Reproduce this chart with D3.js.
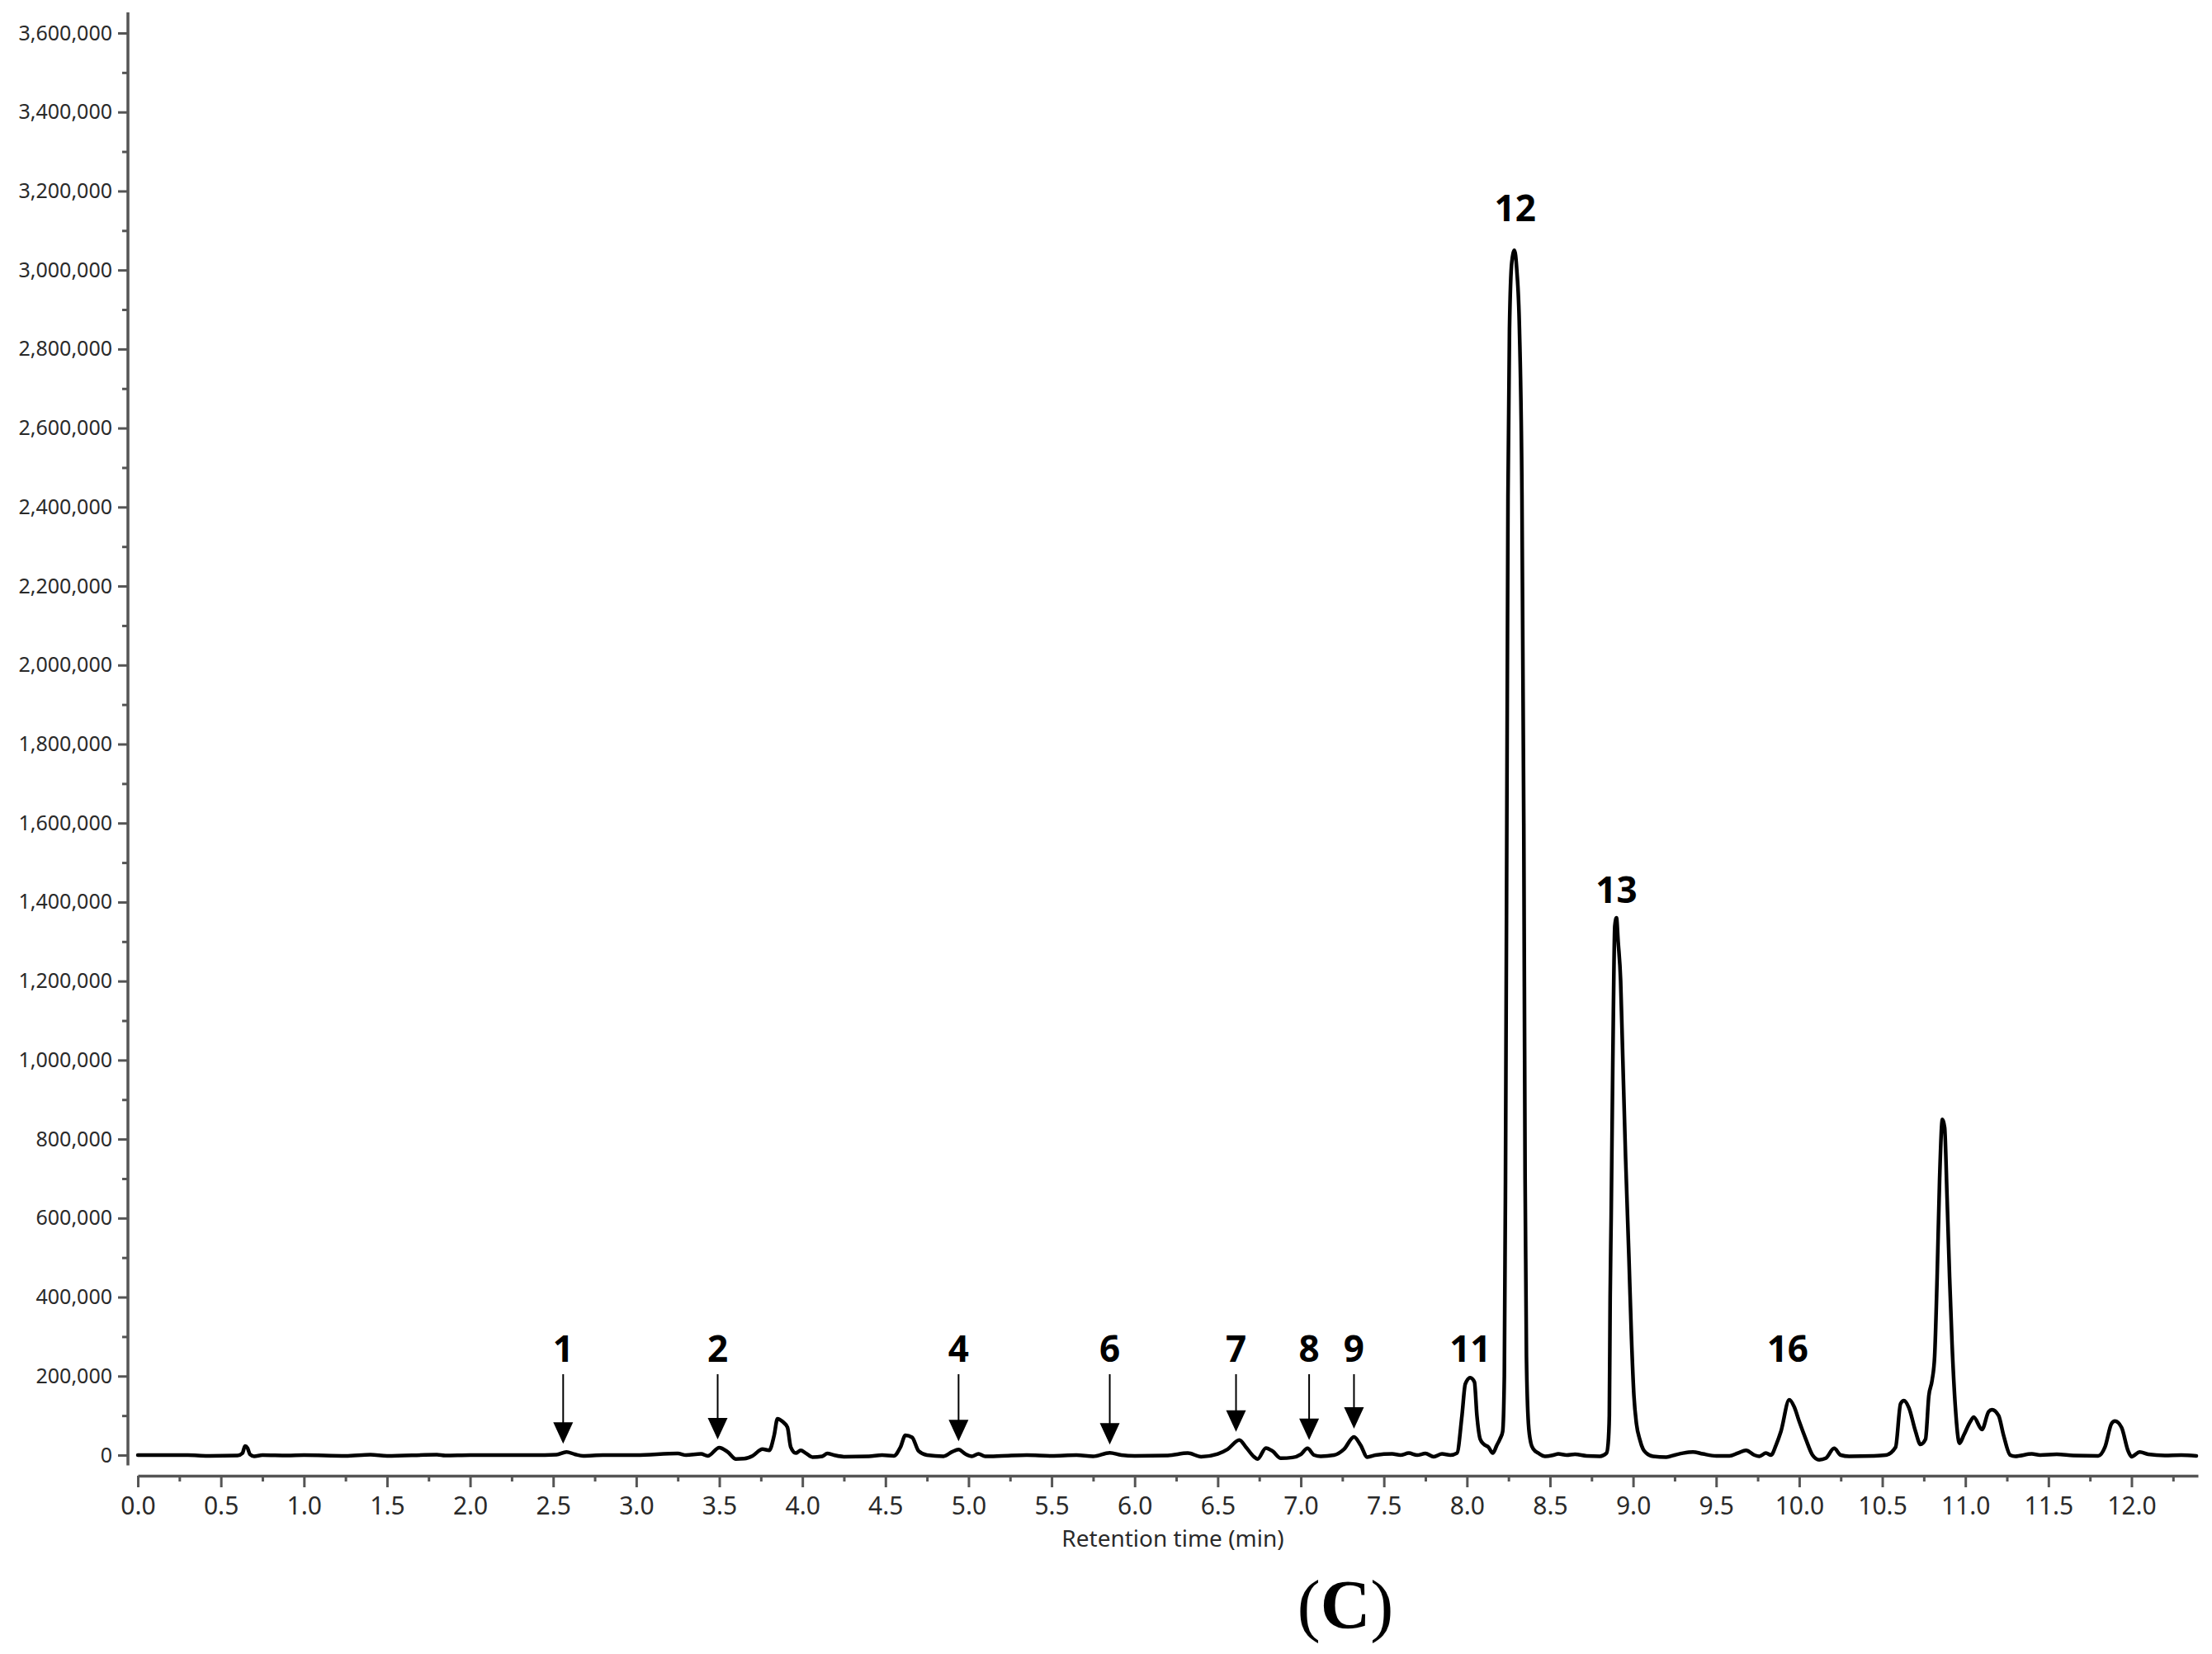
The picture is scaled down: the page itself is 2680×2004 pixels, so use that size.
<!DOCTYPE html>
<html><head><meta charset="utf-8">
<script src="https://cdn.jsdelivr.net/npm/d3@7"></script>
<style>html,body{margin:0;padding:0;background:#fff}</style>
</head><body>
<svg id="chart" width="2680" height="2004"></svg>
<script>
// ---- data ----
const times = [0.00,0.30,0.42,0.60,0.63,0.645,0.66,0.675,0.70,0.75,0.90,1.00,1.25,1.40,1.50,1.80,1.85,2.00,2.30,2.45,2.52,2.58,2.63,2.68,2.80,3.00,3.25,3.30,3.39,3.43,3.50,3.55,3.60,3.65,3.70,3.76,3.80,3.83,3.85,3.88,3.91,3.93,3.96,3.99,4.02,4.06,4.12,4.15,4.19,4.25,4.40,4.48,4.55,4.59,4.62,4.66,4.70,4.75,4.85,4.90,4.94,4.98,5.02,5.06,5.10,5.20,5.35,5.50,5.65,5.75,5.85,5.92,6.00,6.20,6.32,6.40,6.50,6.56,6.63,6.67,6.72,6.74,6.79,6.83,6.88,6.95,7.00,7.04,7.08,7.12,7.20,7.26,7.32,7.36,7.40,7.45,7.55,7.60,7.65,7.70,7.75,7.80,7.85,7.90,7.94,7.97,7.99,8.02,8.045,8.06,8.08,8.10,8.13,8.155,8.18,8.20,8.215,8.225,8.232,8.240,8.247,8.256,8.270,8.286,8.300,8.316,8.331,8.342,8.350,8.358,8.370,8.385,8.40,8.43,8.47,8.52,8.55,8.60,8.65,8.72,8.80,8.84,8.85,8.857,8.862,8.868,8.878,8.890,8.900,8.910,8.925,8.935,8.955,8.975,8.99,9.005,9.02,9.04,9.06,9.08,9.12,9.20,9.25,9.30,9.36,9.42,9.50,9.58,9.63,9.68,9.73,9.76,9.80,9.83,9.86,9.89,9.94,9.97,10.00,10.04,10.08,10.12,10.16,10.21,10.25,10.30,10.45,10.52,10.58,10.61,10.63,10.66,10.70,10.73,10.76,10.78,10.80,10.815,10.83,10.845,10.862,10.875,10.89,10.905,10.92,10.94,10.965,10.99,11.03,11.05,11.10,11.14,11.16,11.20,11.23,11.27,11.30,11.40,11.45,11.55,11.65,11.80,11.84,11.88,11.90,11.94,11.98,12.00,12.05,12.10,12.20,12.30,12.39];
const intensity = [0,0,-2000,-1000,5000,23000,18000,2000,-3000,0,-1000,0,-2000,1000,-2000,1000,-1000,0,0,0,1000,8000,2000,-2000,0,0,4000,0,3000,-2000,19000,8000,-10000,-9000,-2000,15000,12000,50000,92000,85000,70000,20000,5000,12000,5000,-5000,-3000,4000,0,-4000,-3000,0,-2000,20000,50000,45000,10000,0,-3000,8000,14000,3000,-3000,3000,-3000,-2000,0,-2000,0,-3000,6000,0,-2000,-1000,5000,-4000,3000,15000,38000,20000,-5000,-10000,18000,10000,-8000,-6000,2000,17000,0,-3000,0,15000,46000,25000,-5000,0,3000,0,5000,0,4000,-4000,3000,0,5000,100000,180000,196000,185000,100000,40000,28000,20000,5000,25000,42000,60000,200000,700000,1600000,2430000,2850000,3020000,3050000,3000000,2850000,2430000,1600000,700000,250000,80000,30000,15000,5000,-3000,0,3000,0,2000,-2000,-3000,5000,30000,100000,400000,600000,1000000,1340000,1360000,1300000,1200000,1050000,750000,500000,300000,150000,80000,40000,15000,5000,-3000,-5000,0,5000,8000,3000,-2000,-2000,5000,12000,0,-3000,5000,0,25000,60000,140000,122000,85000,40000,0,-12000,-8000,17000,0,-3000,-2000,0,20000,130000,138000,120000,60000,27000,40000,150000,190000,250000,450000,700000,850000,830000,650000,450000,280000,120000,30000,50000,85000,96000,65000,110000,115000,100000,50000,0,-3000,3000,0,2000,-1000,-2000,20000,80000,86000,70000,10000,-4000,8000,2000,-1000,0,-2000];

const peakLabels  = ["1","2","4","6","7","8","9","11","12","13","16"];
const peakTimes   = [2.56,3.49,4.94,5.85,6.61,7.05,7.32,8.02,8.29,8.90,9.93];
const peakHeights = [8000,19000,14000,6000,38000,17000,46000,196000,3050000,1360000,140000];
const peakArrow   = [true,true,true,true,true,true,true,false,false,false,false];

const xMajorTicks = d3.range(0, 12.001, 0.5);
const xMinorTicks = d3.range(0.25, 12.4, 0.5);
const yMajorTicks = d3.range(0, 3600001, 200000);
const yMinorTicks = d3.range(100000, 3600000, 200000);

const xTitle = "Retention time (min)";
const panelLabel = "C";

// ---- drawing ----
const svg = d3.select("#chart");
svg.append("rect").attr("width",2680).attr("height",2004).attr("fill","#fff");

const x = d3.scaleLinear().domain([0, 12.4]).range([167, 2663]);
const y = d3.scaleLinear().domain([0, 3600000]).range([1763, 40]);

const axisColor = "#555";
const textColor = "#2a2a2a";
const sans = "'Noto Sans', 'Open Sans', sans-serif";

// Y axis
const yAxisX = 155;
const gy = svg.append("g").attr("transform", `translate(${yAxisX},0)`);
gy.call(d3.axisLeft(y).tickValues(yMajorTicks).tickFormat(d3.format(",")).tickSize(12).tickSizeOuter(0).tickPadding(7));
gy.select(".domain").remove();
gy.selectAll(".tick line").attr("stroke", axisColor).attr("stroke-width", 3);
gy.selectAll(".tick text").attr("fill", textColor).style("font-family", sans).style("font-size", "25px");
const gyMinor = svg.append("g").attr("transform", `translate(${yAxisX},0)`);
gyMinor.call(d3.axisLeft(y).tickValues(yMinorTicks).tickFormat("").tickSize(7).tickSizeOuter(0));
gyMinor.select(".domain").remove();
gyMinor.selectAll(".tick line").attr("stroke", axisColor).attr("stroke-width", 3);
svg.append("line").attr("x1", yAxisX).attr("x2", yAxisX)
  .attr("y1", y(3652000)).attr("y2", y(-26000))
  .attr("stroke", axisColor).attr("stroke-width", 3.5);

// X axis
const xAxisY = 1788;
const gx = svg.append("g").attr("transform", `translate(0,${xAxisY})`);
gx.call(d3.axisBottom(x).tickValues(xMajorTicks).tickFormat(d3.format(".1f")).tickSize(14).tickSizeOuter(0));
gx.select(".domain").attr("stroke", axisColor).attr("stroke-width", 3.5);
gx.selectAll(".tick line").attr("stroke", axisColor).attr("stroke-width", 3);
gx.selectAll(".tick text").attr("fill", textColor).attr("y", 47).attr("dy", 0)
  .style("font-family", sans).style("font-size", "30px");
const gxMinor = svg.append("g").attr("transform", `translate(0,${xAxisY})`);
gxMinor.call(d3.axisBottom(x).tickValues(xMinorTicks).tickFormat("").tickSize(7).tickSizeOuter(0));
gxMinor.select(".domain").remove();
gxMinor.selectAll(".tick line").attr("stroke", axisColor).attr("stroke-width", 3);

svg.append("text").attr("x", (x.range()[0] + x.range()[1]) / 2 + 6).attr("y", 1874)
  .attr("text-anchor", "middle").attr("fill", textColor)
  .style("font-family", sans).style("font-size", "28px").text(xTitle);

// Chromatogram trace
const data = times.map((t, i) => ({t, v: intensity[i]}));
const line = d3.line().x(d => x(d.t)).y(d => y(d.v)).curve(d3.curveMonotoneX);
svg.append("path").datum(data).attr("d", line)
  .attr("fill", "none").attr("stroke", "#000").attr("stroke-width", 4.5)
  .attr("stroke-linejoin", "round").attr("stroke-linecap", "round");

// Peak labels & arrows
const labelBase = y(0) - 113;
const arrowTop = y(0) - 98;
peakLabels.forEach((lab, i) => {
  const px = x(peakTimes[i]);
  let ly;
  if (peakArrow[i]) {
    ly = labelBase;
    const tip = y(peakHeights[i]) - 10;
    const headH = 26, headW = 12;
    svg.append("line").attr("x1", px).attr("x2", px).attr("y1", arrowTop).attr("y2", tip - headH + 2)
      .attr("stroke", "#000").attr("stroke-width", 2);
    svg.append("path").attr("d", `M${px - headW},${tip - headH} L${px + headW},${tip - headH} L${px},${tip} Z`)
      .attr("fill", "#000");
  } else if (peakHeights[i] > 1000000) {
    ly = y(peakHeights[i]) - (peakHeights[i] > 2000000 ? 35 : 18);
  } else {
    ly = labelBase;
  }
  svg.append("text").attr("x", px).attr("y", ly).attr("text-anchor", "middle")
    .attr("fill", "#000").style("font-family", sans).style("font-weight", "bold")
    .style("font-size", "44px").text(lab);
});

// Panel label (C)
const pl = svg.append("text").attr("x", 1630).attr("y", 1973).attr("text-anchor", "middle")
  .attr("fill", "#000").style("font-family", "'Liberation Serif', 'Times New Roman', serif").style("font-size", "84px");
pl.append("tspan").text("(");
pl.append("tspan").style("font-weight", "bold").text(panelLabel);
pl.append("tspan").text(")");
</script>
</body></html>
